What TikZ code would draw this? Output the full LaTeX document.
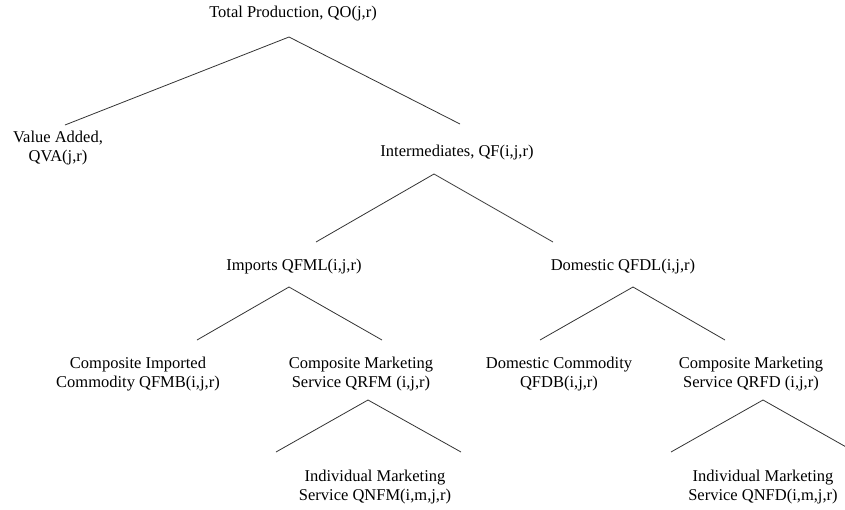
\documentclass[tikz,border=0pt]{standalone}
\usepackage{fontspec}
\setmainfont{Liberation Serif}
\tikzset{
  lbl/.style={inner sep=0pt, align=center, font=\fontsize{16.5}{19}\selectfont},
  branch/.style={line width=0.8pt, draw=black!80}
}
\begin{document}
\begin{tikzpicture}[x=1pt,y=-1pt]
\clip (0,0) rectangle (845,509);
% labels
\node[lbl] (qo)   at (293,14)  {Total Production, QO(j,r)};
\node[lbl] (qva)  at (58,148)  {Value Added,\\QVA(j,r)};
\node[lbl] (qf)   at (457,153) {Intermediates, QF(i,j,r)};
\node[lbl] (qfml) at (294,267) {Imports QFML(i,j,r)};
\node[lbl] (qfdl) at (623,267) {Domestic QFDL(i,j,r)};
\node[lbl] (qfmb) at (138,374) {Composite Imported\\Commodity QFMB(i,j,r)};
\node[lbl] (qrfm) at (361,374) {Composite Marketing\\Service QRFM (i,j,r)};
\node[lbl] (qnfm) at (375,487) {Individual Marketing\\Service QNFM(i,m,j,r)};
\node[lbl] (qfdb) at (559,374) {Domestic Commodity\\QFDB(i,j,r)};
\node[lbl] (qrfd) at (751,374) {Composite Marketing\\Service QRFD (i,j,r)};
\node[lbl] (qnfd) at (763,487) {Individual Marketing\\Service QNFD(i,m,j,r)};
% branch points
\coordinate (a1) at (289,37);  \coordinate (a1l) at (65,125);  \coordinate (a1r) at (460,124);
\coordinate (a2) at (434,174); \coordinate (a2l) at (316,242); \coordinate (a2r) at (553,242);
\coordinate (a3) at (289,287); \coordinate (a3l) at (197,340); \coordinate (a3r) at (382,340);
\coordinate (a4) at (633,287); \coordinate (a4l) at (540,340); \coordinate (a4r) at (725,340);
\coordinate (a5) at (368,400); \coordinate (a5l) at (276,452); \coordinate (a5r) at (461,452);
\coordinate (a6) at (763,400); \coordinate (a6l) at (671,452); \coordinate (a6r) at (855,452);
% connectors
\draw[branch] (a1l) -- (a1) -- (a1r);
\draw[branch] (a2l) -- (a2) -- (a2r);
\draw[branch] (a3l) -- (a3) -- (a3r);
\draw[branch] (a4l) -- (a4) -- (a4r);
\draw[branch] (a5l) -- (a5) -- (a5r);
\draw[branch] (a6l) -- (a6) -- (a6r);
\end{tikzpicture}
\end{document}
